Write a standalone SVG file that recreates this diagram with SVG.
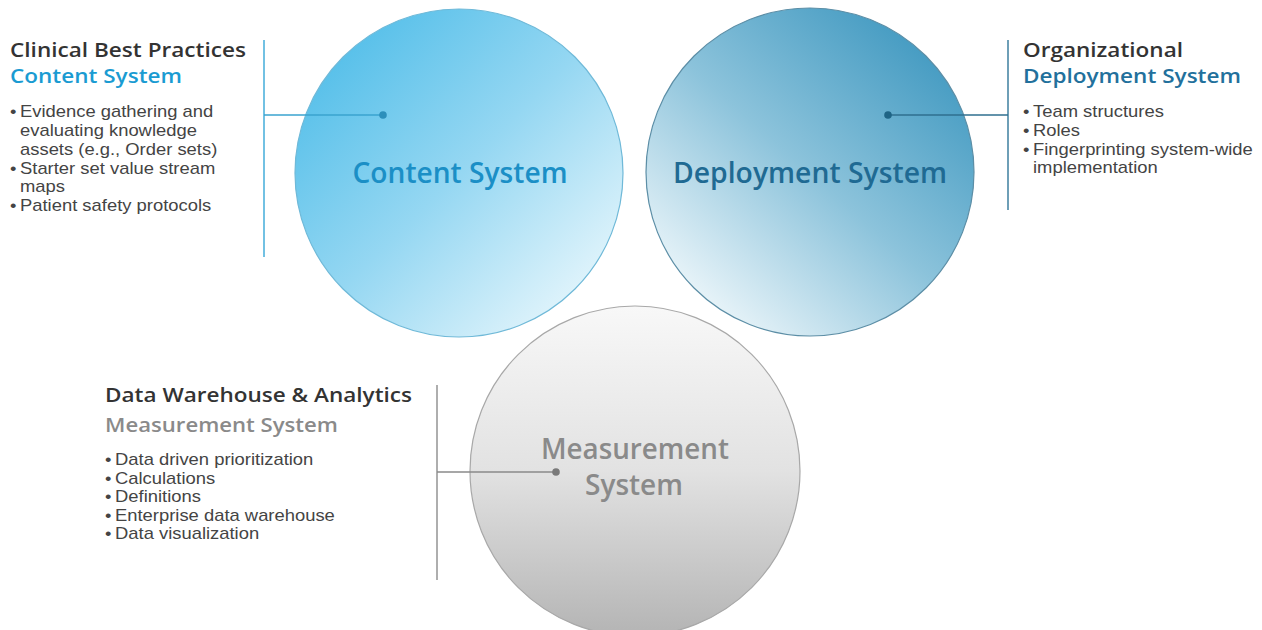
<svg xmlns="http://www.w3.org/2000/svg" width="1262" height="630" viewBox="0 0 1262 630">
<defs>
<linearGradient id="gContent" x1="0.1" y1="0.1" x2="0.9" y2="0.9">
<stop offset="0" stop-color="#52bee9"/>
<stop offset="0.5" stop-color="#95d7f2"/>
<stop offset="1" stop-color="#e6f6fc"/>
</linearGradient>
<linearGradient id="gDeploy" x1="0.9" y1="0.1" x2="0.15" y2="0.95">
<stop offset="0" stop-color="#3f98c0"/>
<stop offset="0.5" stop-color="#8cc3db"/>
<stop offset="1" stop-color="#f2f9fc"/>
</linearGradient>
<linearGradient id="gMeasure" x1="0" y1="0" x2="0" y2="1">
<stop offset="0" stop-color="#f8f8f8"/>
<stop offset="0.5" stop-color="#e2e2e2"/>
<stop offset="1" stop-color="#b4b4b4"/>
</linearGradient>
<style>
.hd{font-family:"Open Sans","Liberation Sans",sans-serif;font-weight:600;font-size:19px}
.dark{fill:#333333}
.body{font-family:"Liberation Sans",Arial,sans-serif;font-size:16px;fill:#444444}
.ctxt{font-family:"Open Sans","Liberation Sans",sans-serif;font-weight:600;font-size:29px}
</style>
</defs>
<rect width="1262" height="630" fill="#ffffff"/>

<g id="node-content">
<circle cx="459" cy="173" r="164" fill="url(#gContent)" stroke="#6fb9d8" stroke-width="1.2"/>
<text class="ctxt" x="460" y="183" text-anchor="middle" fill="#1b8fc6" textLength="215" lengthAdjust="spacingAndGlyphs">Content System</text>
</g>

<g id="node-deployment">
<circle cx="810" cy="172" r="164" fill="url(#gDeploy)" stroke="#5c8ea6" stroke-width="1.2"/>
<text class="ctxt" x="810" y="183" text-anchor="middle" fill="#1f6a93" textLength="274" lengthAdjust="spacingAndGlyphs">Deployment System</text>
</g>

<g id="node-measurement">
<circle cx="635" cy="471" r="165" fill="url(#gMeasure)" stroke="#a8a8a8" stroke-width="1.2"/>
<text class="ctxt" x="635" y="459" text-anchor="middle" fill="#8a8a8a" textLength="188" lengthAdjust="spacingAndGlyphs">Measurement</text>
<text class="ctxt" x="634" y="495" text-anchor="middle" fill="#8a8a8a" textLength="98" lengthAdjust="spacingAndGlyphs">System</text>
</g>

<g id="node-content-info">
<text class="hd dark" x="10" y="57" textLength="236" lengthAdjust="spacingAndGlyphs">Clinical Best Practices</text>
<text class="hd" x="10" y="83" fill="#1a9bd2" textLength="172" lengthAdjust="spacingAndGlyphs">Content System</text>
<g class="body" transform="translate(10,0) scale(1.15,1)">
<text x="0" y="117">•</text><text x="8.7" y="117">Evidence gathering and</text>
<text x="8.7" y="136">evaluating knowledge</text>
<text x="8.7" y="155">assets (e.g., Order sets)</text>
<text x="0" y="174">•</text><text x="8.7" y="174">Starter set value stream</text>
<text x="8.7" y="192">maps</text>
<text x="0" y="211">•</text><text x="8.7" y="211">Patient safety protocols</text>
</g>
</g>

<g id="node-deployment-info">
<text class="hd dark" x="1023" y="57" textLength="160" lengthAdjust="spacingAndGlyphs">Organizational</text>
<text class="hd" x="1023" y="83" fill="#22709c" textLength="218" lengthAdjust="spacingAndGlyphs">Deployment System</text>
<g class="body" transform="translate(1023,0) scale(1.15,1)">
<text x="0" y="117">•</text><text x="8.7" y="117">Team structures</text>
<text x="0" y="136">•</text><text x="8.7" y="136">Roles</text>
<text x="0" y="155">•</text><text x="8.7" y="155">Fingerprinting system-wide</text>
<text x="8.7" y="173">implementation</text>
</g>
</g>

<g id="node-measurement-info">
<text class="hd dark" x="105" y="402" textLength="307" lengthAdjust="spacingAndGlyphs">Data Warehouse &amp; Analytics</text>
<text class="hd" x="105" y="432" fill="#8a8a8a" textLength="233" lengthAdjust="spacingAndGlyphs">Measurement System</text>
<g class="body" transform="translate(105,0) scale(1.15,1)">
<text x="0" y="465">•</text><text x="8.7" y="465">Data driven prioritization</text>
<text x="0" y="484">•</text><text x="8.7" y="484">Calculations</text>
<text x="0" y="502">•</text><text x="8.7" y="502">Definitions</text>
<text x="0" y="521">•</text><text x="8.7" y="521">Enterprise data warehouse</text>
<text x="0" y="539">•</text><text x="8.7" y="539">Data visualization</text>
</g>
</g>

<g id="connectors" fill="none">
<line x1="264" y1="40" x2="264" y2="257" stroke="#4fb2dc" stroke-width="1.6"/>
<line x1="264" y1="115" x2="383" y2="115" stroke="#3aa3cf" stroke-width="1.4"/>
<circle cx="383" cy="115" r="3.8" fill="#2d8fbb"/>
<line x1="1008" y1="40" x2="1008" y2="210" stroke="#4a87a5" stroke-width="1.6"/>
<line x1="888" y1="115" x2="1008" y2="115" stroke="#2f6f8f" stroke-width="1.4"/>
<circle cx="888" cy="115" r="3.8" fill="#1f6485"/>
<line x1="437" y1="385" x2="437" y2="580" stroke="#9a9a9a" stroke-width="1.6"/>
<line x1="437" y1="472" x2="556" y2="472" stroke="#8a8a8a" stroke-width="1.4"/>
<circle cx="556" cy="472" r="3.8" fill="#7a7a7a"/>
</g>
</svg>
